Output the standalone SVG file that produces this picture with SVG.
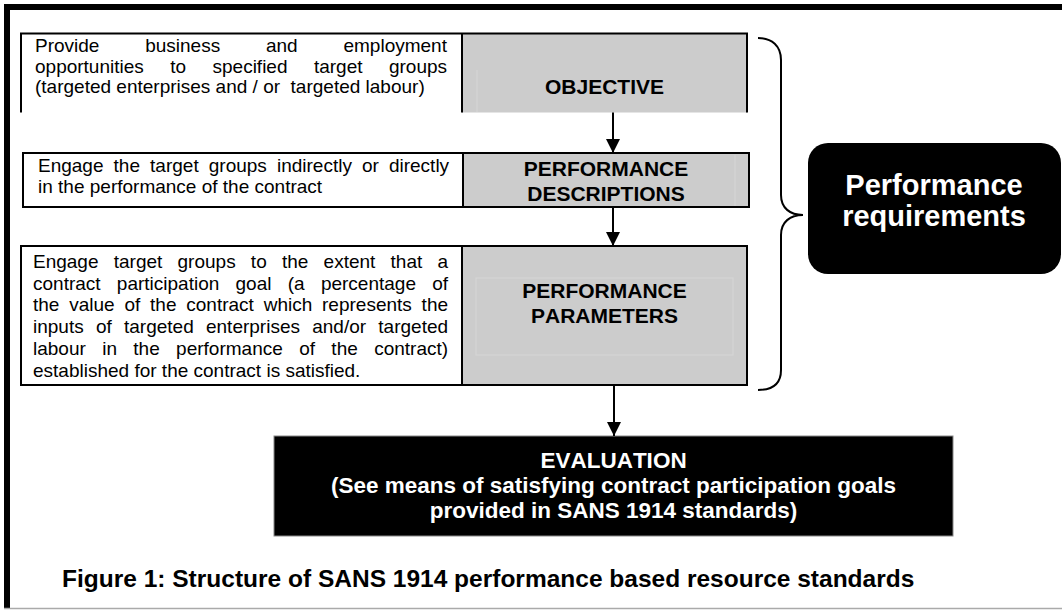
<svg xmlns="http://www.w3.org/2000/svg" width="1062" height="610" viewBox="0 0 1062 610">
<style>
  text{font-family:"Liberation Sans",Arial,sans-serif;font-kerning:none}
  .body{font-size:19px;fill:#000}
  .lbl{font-size:21px;font-weight:bold;fill:#000;text-anchor:middle}
  .eval{font-size:22.5px;font-weight:bold;fill:#fff;text-anchor:middle}
  .req{font-size:29px;font-weight:bold;fill:#fff;text-anchor:middle}
  .cap{font-size:24.5px;font-weight:bold;fill:#000}
  .box{fill:#fff;stroke:#000;stroke-width:2}
  .gray{fill:#cccccc;stroke:#000;stroke-width:2}
  .edge{stroke:#000;stroke-width:2;fill:none}
  .faint{stroke:#d6d6d6;stroke-width:1;fill:none}
  .conn{stroke:#000;stroke-width:2;fill:none;marker-end:url(#ah)}
</style>
<defs>
  <marker id="ah" markerUnits="userSpaceOnUse" markerWidth="14" markerHeight="14" refX="14" refY="7" orient="auto">
    <path d="M0,0 L14,7 L0,14 Z" fill="#000"/>
  </marker>
</defs>

<g id="frame">
  <rect x="4" y="4" width="1058" height="6" fill="#000"/>
  <rect x="4" y="4" width="6" height="604" fill="#000"/>
  <line x1="4" y1="608.5" x2="1062" y2="608.5" stroke="#aaaaaa" stroke-width="1.5"/>
</g>

<g id="objective">
  <rect x="462" y="33.5" width="285" height="79" fill="#cccccc"/>
  <path class="edge" d="M21,112.5 V33.5 H747 V112.5 M462,33.5 V112.5"/>
  <line class="faint" x1="477" y1="70" x2="477" y2="112"/>
  <text class="body" x="35" y="52" style="word-spacing:40.5px">Provide business and employment</text>
  <text class="body" x="35" y="72.5" style="word-spacing:21.15px">opportunities to specified target groups</text>
  <text class="body" x="35" y="93" xml:space="preserve">(targeted enterprises and / or  targeted labour)</text>
  <text class="lbl" x="604.5" y="94">OBJECTIVE</text>
</g>

<g id="performance-descriptions">
  <rect class="box" x="23" y="153" width="440" height="54"/>
  <rect class="gray" x="463" y="153" width="286" height="54"/>
  <line class="faint" x1="735" y1="155" x2="735" y2="206"/>
  <text class="body" x="38" y="171.7" style="word-spacing:4.8px">Engage the target groups indirectly or directly</text>
  <text class="body" x="38" y="193.3">in the performance of the contract</text>
  <text class="lbl" x="606" y="176">PERFORMANCE</text>
  <text class="lbl" x="606" y="200.7">DESCRIPTIONS</text>
</g>

<g id="performance-parameters">
  <rect class="box" x="21" y="246" width="441" height="139"/>
  <rect class="gray" x="462" y="246" width="285" height="139"/>
  <rect class="faint" x="476" y="278" width="257" height="77"/>
  <text class="body" x="33" y="268" style="word-spacing:9.95px">Engage target groups to the extent that a</text>
  <text class="body" x="33" y="289.7" style="word-spacing:10.98px">contract participation goal (a percentage of</text>
  <text class="body" x="33" y="311.4" style="word-spacing:4.52px">the value of the contract which represents the</text>
  <text class="body" x="33" y="333.1" style="word-spacing:6.96px">inputs of targeted enterprises and/or targeted</text>
  <text class="body" x="33" y="354.8" style="word-spacing:11.09px">labour in the performance of the contract)</text>
  <text class="body" x="33" y="376.5">established for the contract is satisfied.</text>
  <text class="lbl" x="604.5" y="298">PERFORMANCE</text>
  <text class="lbl" x="604.5" y="323">PARAMETERS</text>
</g>

<g id="performance-requirements">
  <rect x="808" y="143" width="253" height="131" rx="20" ry="20" fill="#000"/>
  <text class="req" x="934" y="195">Performance</text>
  <text class="req" x="934" y="226">requirements</text>
</g>

<g id="evaluation">
  <rect x="274" y="436" width="679" height="100" fill="#000" stroke="#888" stroke-width="1"/>
  <text class="eval" x="613.5" y="468">EVALUATION</text>
  <text class="eval" x="613.5" y="493">(See means of satisfying contract participation goals</text>
  <text class="eval" x="613.5" y="518">provided in SANS 1914 standards)</text>
</g>

<g id="caption">
  <text class="cap" x="62" y="587">Figure 1: Structure of SANS 1914 performance based resource standards</text>
</g>

<g id="connectors">
  <line class="conn" x1="613" y1="112.5" x2="613" y2="153"/>
  <line class="conn" x1="613" y1="207" x2="613" y2="246"/>
  <line class="conn" x1="614" y1="385" x2="614" y2="436"/>
  <path class="edge" stroke-width="1.6" d="M758,38 C772,38 781,46 781,60 L781,195 C781,208 790,215 803,215 C790,215 781,222 781,235 L781,370 C781,384 772,390 758,390"/>
</g>
</svg>
